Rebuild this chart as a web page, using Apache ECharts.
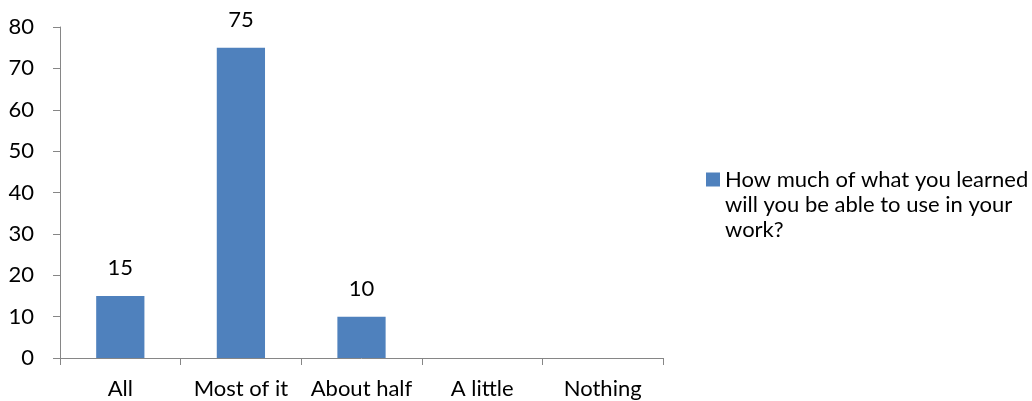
<!DOCTYPE html>
<html><head><meta charset="utf-8">
<script src="https://cdn.jsdelivr.net/npm/echarts@6/dist/echarts.min.js"></script>
<style>html,body{margin:0;padding:0;background:#fff}#c{width:1032px;height:401px}</style>
</head><body><div id="c"></div>
<script>
const categories = ['All', 'Most of it', 'About half', 'A little', 'Nothing'];
const values = [15, 75, 10, 0, 0];
const seriesName = 'How much of what you learned will you be able to use in your work?';
const legendLines = ['How much of what you learned', 'will you be able to use in your', 'work?'];
const yMin = 0, yMax = 80, yStep = 10;

const font = 'Lato, "Open Sans", sans-serif';
const lh = 25;
const chart = echarts.init(document.getElementById('c'), null, {renderer: 'canvas'});
chart.setOption({
  animation: false,
  grid: {left: 60, right: 369, top: 27, bottom: 43, containLabel: false},
  legend: {
    show: true, left: 706, top: 117, orient: 'vertical', padding: 0,
    itemWidth: 14, itemHeight: 14, itemGap: 6,
    icon: 'rect',
    formatter: function () { return '\n\n' + legendLines.join('\n'); },
    textStyle: {fontFamily: font, fontSize: 22, color: '#000', lineHeight: lh}
  },
  xAxis: {
    type: 'category', data: categories,
    axisLine: {show: true, lineStyle: {color: '#868686', width: 1}},
    axisTick: {show: true, alignWithLabel: false, length: 7, lineStyle: {color: '#868686'}},
    axisLabel: {fontFamily: font, fontSize: 22, color: '#000', margin: 20, interval: 0}
  },
  yAxis: {
    type: 'value', min: yMin, max: yMax, interval: yStep,
    axisLine: {show: true, lineStyle: {color: '#868686', width: 1}},
    axisTick: {show: true, length: 7, lineStyle: {color: '#868686'}},
    splitLine: {show: false},
    axisLabel: {fontFamily: font, fontSize: 22, color: '#000', margin: 26}
  },
  series: [{
    name: seriesName, type: 'bar', data: values,
    barCategoryGap: '60%',
    itemStyle: {color: '#4F81BD'},
    label: {show: true, position: 'top', distance: 17, fontFamily: font, fontSize: 22, color: '#000',
      formatter: function (p) { return p.value === 0 ? '' : String(p.value); }}
  }]
});
</script></body></html>
